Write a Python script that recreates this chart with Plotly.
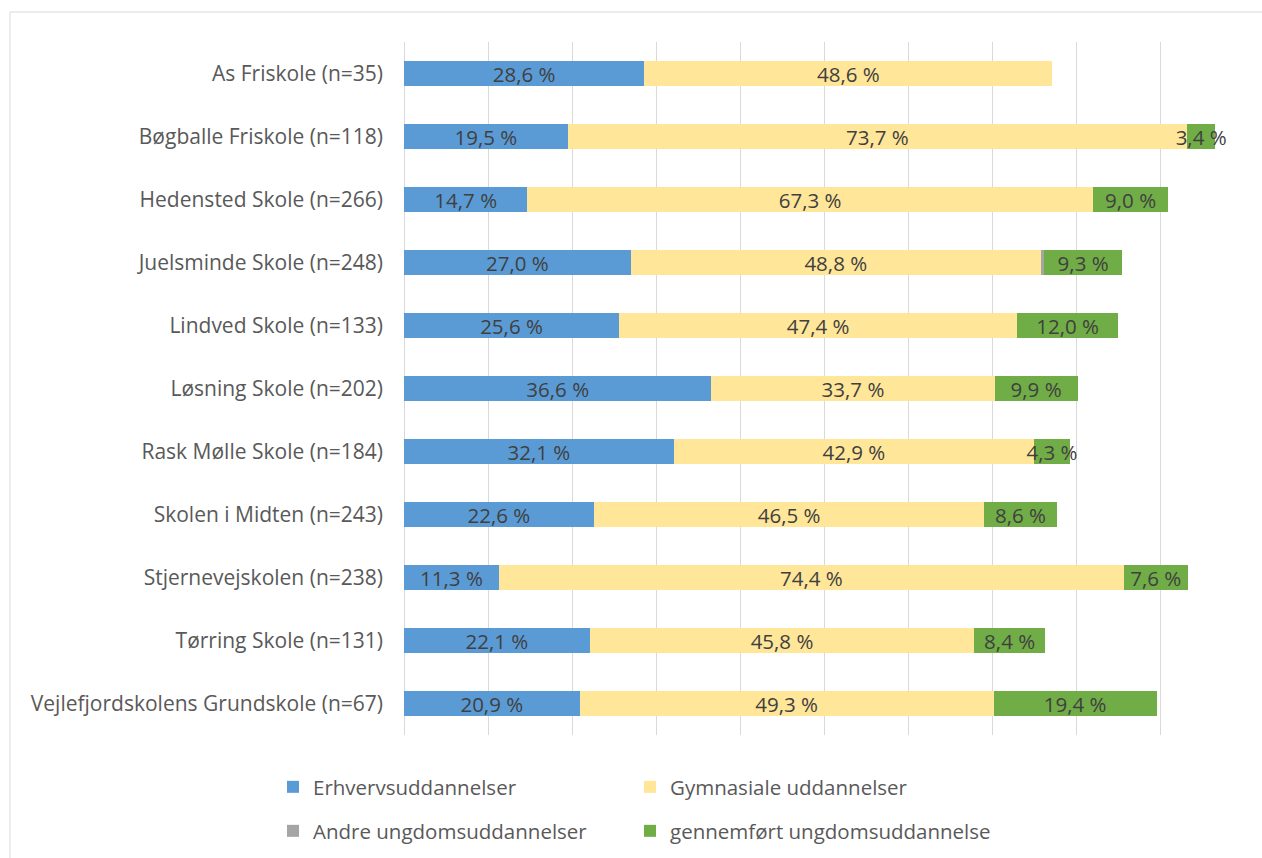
import plotly.graph_objects as go

schools = [
    "As Friskole (n=35)",
    "Bøgballe Friskole (n=118)",
    "Hedensted Skole (n=266)",
    "Juelsminde Skole (n=248)",
    "Lindved Skole (n=133)",
    "Løsning Skole (n=202)",
    "Rask Mølle Skole (n=184)",
    "Skolen i Midten (n=243)",
    "Stjernevejskolen (n=238)",
    "Tørring Skole (n=131)",
    "Vejlefjordskolens Grundskole (n=67)",
]
erhverv = [28.6, 19.5, 14.7, 27.0, 25.6, 36.6, 32.1, 22.6, 11.3, 22.1, 20.9]
gymnasiale = [48.6, 73.7, 67.3, 48.8, 47.4, 33.7, 42.9, 46.5, 74.4, 45.8, 49.3]
andre = [0, 0, 0, 0.4, 0, 0, 0, 0, 0, 0, 0]
gennemfort = [0, 3.4, 9.0, 9.3, 12.0, 9.9, 4.3, 8.6, 7.6, 8.4, 19.4]

series = [
    ("Erhvervsuddannelser", erhverv, "#5B9BD5", True, "legend"),
    ("Gymnasiale uddannelser", gymnasiale, "#FFE699", True, "legend2"),
    ("Andre ungdomsuddannelser", andre, "#A5A5A5", False, "legend3"),
    ("gennemført ungdomsuddannelse", gennemfort, "#70AD47", True, "legend4"),
]

FONT = "Open Sans"
LABEL_COLOR = "#595959"
DATA_COLOR = "#404040"
FS = 20.5


def fmt(v, show):
    if not show or v == 0:
        return ""
    return f"{v:.1f} %".replace(".", ",")


fig = go.Figure()
for name, vals, color, show_lbl, leg in series:
    fig.add_trace(go.Bar(
        y=schools,
        x=vals,
        name=name,
        orientation="h",
        marker=dict(color=color, line=dict(width=0)),
        text=[fmt(v, show_lbl) for v in vals],
        textposition="inside",
        insidetextanchor="middle",
        textangle=0,
        textfont=dict(family=FONT, size=FS, color=DATA_COLOR),
        width=0.39,
        legend=leg,
        showlegend=True,
        hovertemplate="%{y}: %{x}<extra>" + name + "</extra>",
    ))

leg_common = dict(
    orientation="h",
    xanchor="left",
    yanchor="middle",
    font=dict(family=FONT, size=FS, color=LABEL_COLOR),
    bgcolor="rgba(0,0,0,0)",
)
col1 = (273 - 404) / 840
col2 = (630 - 404) / 840
row1 = (735 - 787) / 693
row2 = (735 - 831) / 693

fig.update_layout(
    width=1262,
    height=858,
    showlegend=True,
    barmode="stack",
    margin=dict(l=404, r=18, t=42, b=123, autoexpand=False),
    paper_bgcolor="white",
    plot_bgcolor="white",
    font=dict(family=FONT, color=LABEL_COLOR, size=FS),
    uniformtext=dict(mode="show", minsize=FS),
    xaxis=dict(
        range=[0, 100],
        dtick=10,
        showgrid=True,
        gridcolor="#D9D9D9",
        gridwidth=1.3,
        zeroline=True,
        zerolinecolor="#D9D9D9",
        zerolinewidth=1.3,
        showticklabels=False,
        showline=False,
        fixedrange=True,
    ),
    yaxis=dict(
        autorange="reversed",
        showgrid=False,
        showline=False,
        ticks="",
        ticklabelstandoff=20,
        tickfont=dict(family=FONT, size=21, color=LABEL_COLOR),
        fixedrange=True,
    ),
    legend=dict(leg_common, x=col1, y=row1),
    legend2=dict(leg_common, x=col2, y=row1),
    legend3=dict(leg_common, x=col1, y=row2),
    legend4=dict(leg_common, x=col2, y=row2),
    shapes=[dict(
        type="rect",
        xref="paper", yref="paper",
        x0=(10 - 404) / 840, x1=(1275 - 404) / 840,
        y0=(735 - 880) / 693, y1=(735 - 12) / 693,
        line=dict(color="#D9D9D9", width=1),
        fillcolor="rgba(0,0,0,0)",
        layer="below",
    )],
)

fig.write_html(
    "out.html",
    config={"displayModeBar": False},
    post_script="document.body.style.margin='0';document.body.style.overflow='hidden';",
)
